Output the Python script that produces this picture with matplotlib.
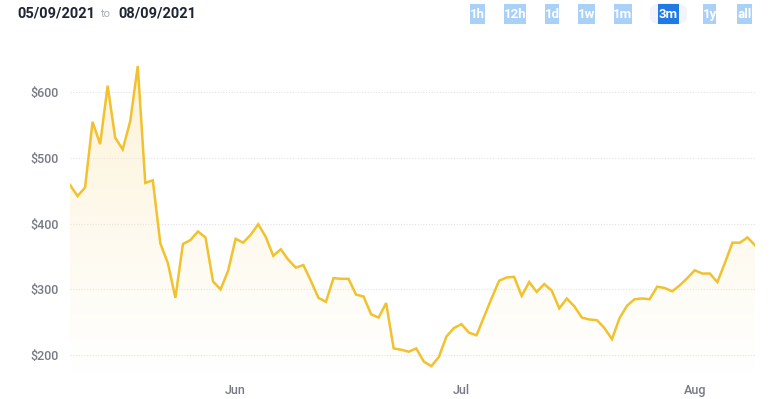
import matplotlib
matplotlib.use("Agg")
import matplotlib.pyplot as plt
import matplotlib.dates as mdates
from matplotlib.patches import Rectangle, FancyBboxPatch
import numpy as np
import pandas as pd

start_date = "2021-05-10"
prices = [
    459, 442, 455, 555, 521, 610, 531, 513, 556, 640,
    462, 466, 370, 340, 287, 369, 375, 388, 379, 312,
    300, 328, 377, 371, 383, 399, 380, 351, 361, 345,
    333, 337, 313, 287, 281, 317, 316, 316, 292, 289,
    262, 257, 279, 210, 208, 205, 210, 190, 183, 197,
    228, 241, 247, 234, 230, 258, 286, 313, 318, 319,
    290, 311, 296, 308, 298, 271, 286, 274, 257, 254,
    253, 241, 224, 256, 275, 285, 286, 285, 304, 302,
    297, 306, 317, 329, 324, 324, 311, 340, 371, 371,
    379, 367,
]
y_ticks = [200, 300, 400, 500, 600]
x_tick_dates = ["2021-06-01", "2021-07-01", "2021-08-01"]
x_tick_labels = ["Jun", "Jul", "Aug"]
buttons = ["1h", "12h", "1d", "1w", "1m", "3m", "1y", "all"]
active_button = "3m"
date_from = "05/09/2021"
date_to = "08/09/2021"

dates = pd.date_range(start_date, periods=len(prices), freq="D")
xnum = mdates.date2num(dates.to_pydatetime())

W, H = 775, 399
fig = plt.figure(figsize=(W / 100, H / 100), dpi=100)
fig.patch.set_facecolor("white")

# axes placement (pixel-based)
x0, x1 = 70, 755
ylo, yhi = 170, 650
ypix_top = 92.3 - (yhi - 600) * 0.6567
ypix_bot = 92.3 + (600 - ylo) * 0.6567
ax = fig.add_axes([x0 / W, 1 - ypix_bot / H, (x1 - x0) / W, (ypix_bot - ypix_top) / H])

line_color = "#f2c12e"

# gradient fill under the line
poly = ax.fill_between(xnum, prices, ylo, color="none", lw=0)
grad = np.linspace(1, 0, 256)
rgba = np.zeros((256, 1, 4))
rgba[:, 0, 0] = 0.99
rgba[:, 0, 1] = 0.92
rgba[:, 0, 2] = 0.74
rgba[:, 0, 3] = 0.6 * grad ** 1.1
img = ax.imshow(rgba, aspect="auto", extent=[xnum[0], xnum[-1], ylo, 645],
                origin="upper", zorder=1)
path = poly.get_paths()[0]
img.set_clip_path(path, transform=ax.transData)
ax.set_xlim(xnum[0], xnum[-1])
ax.set_ylim(ylo, yhi)

ax.plot(xnum, prices, color=line_color, lw=1.8, zorder=3, solid_joinstyle="miter")

for s in ax.spines.values():
    s.set_visible(False)
ax.set_yticks(y_ticks)
ax.set_yticklabels([f"${v}" for v in y_ticks])
ax.yaxis.grid(True, color="#e3e3e3", linestyle=(0, (1, 1.5)), lw=0.8)
ax.set_axisbelow(True)
ax.tick_params(axis="y", length=0, pad=8, labelsize=9, labelcolor="#777985")
ax.set_xticks(mdates.date2num(pd.to_datetime(x_tick_dates).to_pydatetime()))
ax.set_xticklabels(x_tick_labels)
ax.tick_params(axis="x", length=0, pad=7, labelsize=9, labelcolor="#777985")
for lab in ax.get_yticklabels() + ax.get_xticklabels():
    lab.set_fontfamily("Roboto")
    lab.set_fontweight("medium")

# header: date range
fig.text(17 / W, 1 - 13 / H, date_from, fontsize=10.5, fontweight="bold",
         color="#1f2535", va="center", ha="left", family="Roboto")
fig.text(101 / W, 1 - 14 / H, "to", fontsize=8, color="#a9adb6",
         va="center", ha="left", family="Roboto")
fig.text(118 / W, 1 - 13 / H, date_to, fontsize=10.5, fontweight="bold",
         color="#1f2535", va="center", ha="left", family="Roboto")

# range buttons
btn_boxes = [(470, 485), (504, 526), (545, 559), (578, 595), (614, 632),
             (658, 679), (703, 716), (737, 752)]
for lbl, (bx0, bx1) in zip(buttons, btn_boxes):
    active = lbl == active_button
    if active:
        bg = FancyBboxPatch(((bx0 - 8) / W, 1 - 25 / H), (bx1 - bx0 + 16) / W, 22 / H,
                            boxstyle="round,pad=0,rounding_size=0.02",
                            transform=fig.transFigure, facecolor="#f2f4f7",
                            edgecolor="none")
        fig.patches.append(bg)
    fc = "#1f7ae6" if active else "#a9d0f7"
    r = Rectangle((bx0 / W, 1 - 24 / H), (bx1 - bx0) / W, 20 / H,
                  transform=fig.transFigure, facecolor=fc, edgecolor="none")
    fig.patches.append(r)
    fig.text((bx0 + bx1) / 2 / W, 1 - 14.5 / H, lbl, fontsize=9.5, fontweight="bold",
             color="white", ha="center", va="center", family="Roboto")

fig.savefig("out.png", dpi=100, facecolor="white")
